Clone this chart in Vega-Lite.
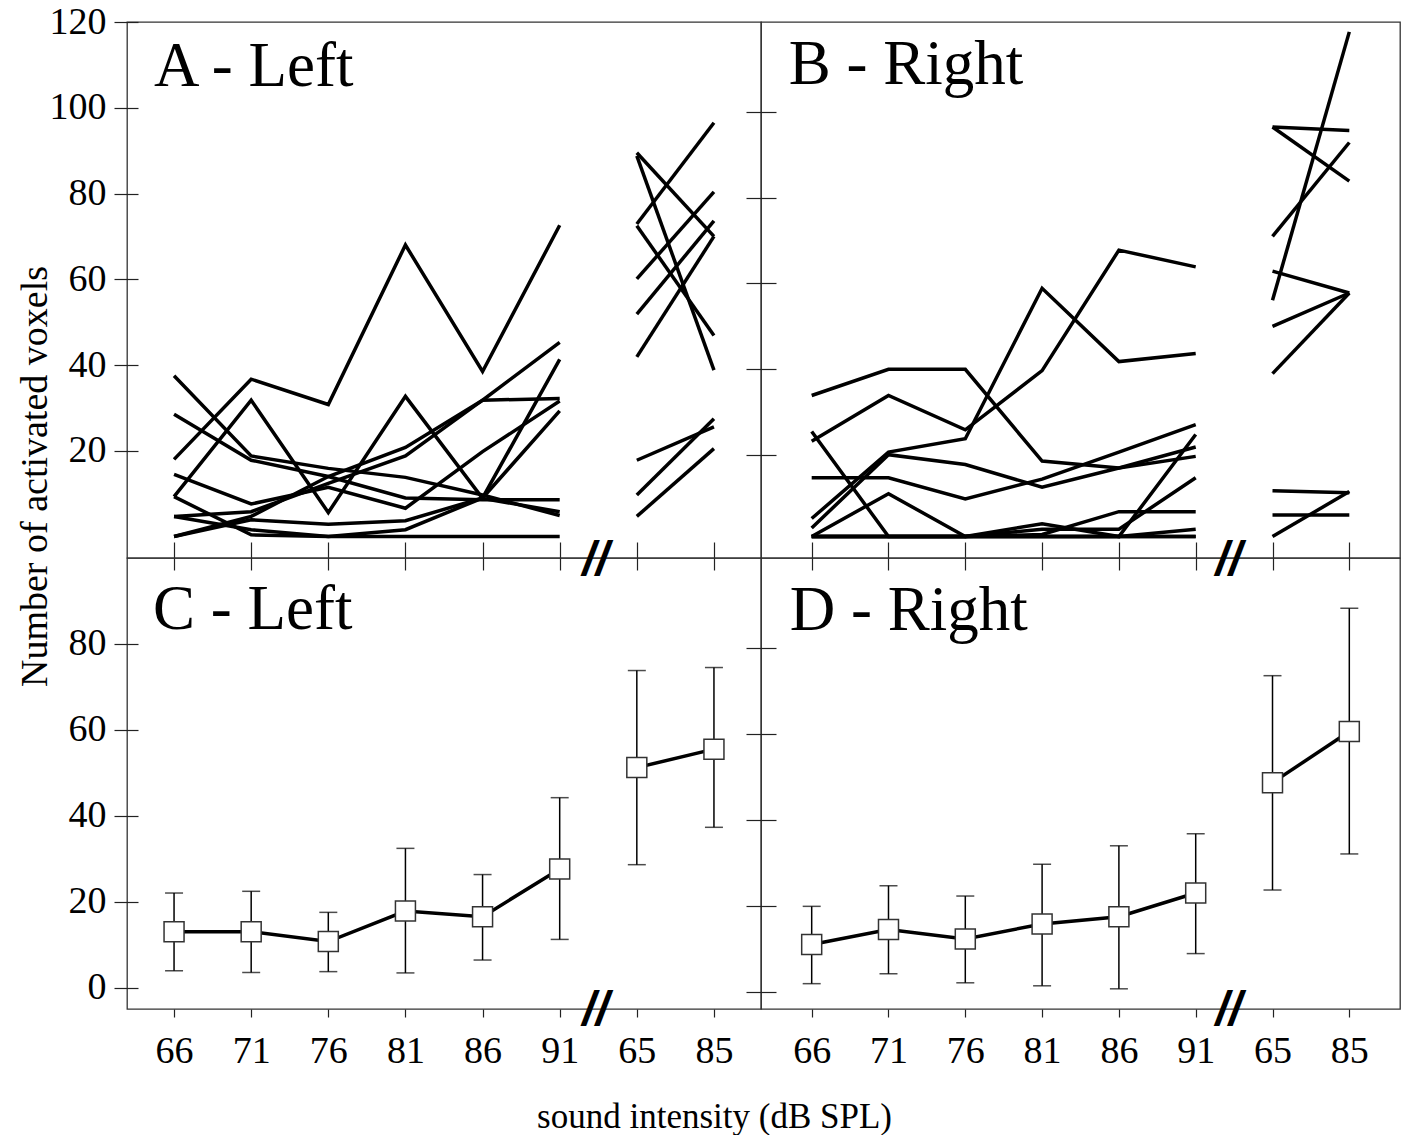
{
  "$schema": "https://vega.github.io/schema/vega-lite/v6.json",
  "background": "white",
  "padding": {"left": 15, "top": 2, "right": 0, "bottom": 0},
  "bounds": "flush",
  "spacing": 0,
  "columns": 2,
  "config": {
    "view": {"stroke": "#333", "strokeWidth": 1.3},
    "axis": {"labelFont": "Liberation Serif", "labelFontSize": 38, "labelColor": "black", "titleFont": "Liberation Serif", "titleFontWeight": "normal", "titleColor": "black", "tickColor": "#222", "tickWidth": 1.2, "grid": false, "labelOverlap": false},
    "text": {"font": "Liberation Serif", "color": "black"}
  },
  "datasets": {
    "left_subjects": [
      {"subject": "1", "part": "low", "level": "66", "voxels": 18}, {"subject": "1", "part": "low", "level": "71", "voxels": 36.7}, {"subject": "1", "part": "low", "level": "76", "voxels": 30.8}, {"subject": "1", "part": "low", "level": "81", "voxels": 68}, {"subject": "1", "part": "low", "level": "86", "voxels": 38.5}, {"subject": "1", "part": "low", "level": "91", "voxels": 72.6},
      {"subject": "2", "part": "low", "level": "66", "voxels": 37.5}, {"subject": "2", "part": "low", "level": "71", "voxels": 18.8}, {"subject": "2", "part": "low", "level": "76", "voxels": 15.9}, {"subject": "2", "part": "low", "level": "81", "voxels": 13.8}, {"subject": "2", "part": "low", "level": "86", "voxels": 9.7}, {"subject": "2", "part": "low", "level": "91", "voxels": 4.9},
      {"subject": "3", "part": "low", "level": "66", "voxels": 28.5}, {"subject": "3", "part": "low", "level": "71", "voxels": 17.8}, {"subject": "3", "part": "low", "level": "76", "voxels": 14}, {"subject": "3", "part": "low", "level": "81", "voxels": 9}, {"subject": "3", "part": "low", "level": "86", "voxels": 8.6}, {"subject": "3", "part": "low", "level": "91", "voxels": 8.6},
      {"subject": "4", "part": "low", "level": "66", "voxels": 9.3}, {"subject": "4", "part": "low", "level": "71", "voxels": 31.8}, {"subject": "4", "part": "low", "level": "76", "voxels": 5.6}, {"subject": "4", "part": "low", "level": "81", "voxels": 32.7}, {"subject": "4", "part": "low", "level": "86", "voxels": 8.9}, {"subject": "4", "part": "low", "level": "91", "voxels": 5.8},
      {"subject": "5", "part": "low", "level": "66", "voxels": 14.5}, {"subject": "5", "part": "low", "level": "71", "voxels": 7.6}, {"subject": "5", "part": "low", "level": "76", "voxels": 11.5}, {"subject": "5", "part": "low", "level": "81", "voxels": 6.6}, {"subject": "5", "part": "low", "level": "86", "voxels": 19.8}, {"subject": "5", "part": "low", "level": "91", "voxels": 31.6},
      {"subject": "6", "part": "low", "level": "66", "voxels": 4.7}, {"subject": "6", "part": "low", "level": "71", "voxels": 5.8}, {"subject": "6", "part": "low", "level": "76", "voxels": 12.4}, {"subject": "6", "part": "low", "level": "81", "voxels": 18.8}, {"subject": "6", "part": "low", "level": "86", "voxels": 31.8}, {"subject": "6", "part": "low", "level": "91", "voxels": 32.2},
      {"subject": "7", "part": "low", "level": "66", "voxels": 0}, {"subject": "7", "part": "low", "level": "71", "voxels": 4.7}, {"subject": "7", "part": "low", "level": "76", "voxels": 14}, {"subject": "7", "part": "low", "level": "81", "voxels": 20.8}, {"subject": "7", "part": "low", "level": "86", "voxels": 31.8}, {"subject": "7", "part": "low", "level": "91", "voxels": 45.3},
      {"subject": "8", "part": "low", "level": "66", "voxels": 9.3}, {"subject": "8", "part": "low", "level": "71", "voxels": 0.4}, {"subject": "8", "part": "low", "level": "76", "voxels": 0}, {"subject": "8", "part": "low", "level": "81", "voxels": 0}, {"subject": "8", "part": "low", "level": "86", "voxels": 0}, {"subject": "8", "part": "low", "level": "91", "voxels": 0},
      {"subject": "9", "part": "low", "level": "66", "voxels": 4.7}, {"subject": "9", "part": "low", "level": "71", "voxels": 1.6}, {"subject": "9", "part": "low", "level": "76", "voxels": 0}, {"subject": "9", "part": "low", "level": "81", "voxels": 1.6}, {"subject": "9", "part": "low", "level": "86", "voxels": 9}, {"subject": "9", "part": "low", "level": "91", "voxels": 29.3},
      {"subject": "10", "part": "low", "level": "66", "voxels": 0}, {"subject": "10", "part": "low", "level": "71", "voxels": 3.9}, {"subject": "10", "part": "low", "level": "76", "voxels": 2.9}, {"subject": "10", "part": "low", "level": "81", "voxels": 3.7}, {"subject": "10", "part": "low", "level": "86", "voxels": 9}, {"subject": "10", "part": "low", "level": "91", "voxels": 41.3},
      {"subject": "1", "part": "high", "level": "65", "voxels": 88.8}, {"subject": "1", "part": "high", "level": "85", "voxels": 38.8},
      {"subject": "2", "part": "high", "level": "65", "voxels": 89.5}, {"subject": "2", "part": "high", "level": "85", "voxels": 70},
      {"subject": "3", "part": "high", "level": "65", "voxels": 72.9}, {"subject": "3", "part": "high", "level": "85", "voxels": 96.5},
      {"subject": "4", "part": "high", "level": "65", "voxels": 72.5}, {"subject": "4", "part": "high", "level": "85", "voxels": 46.9},
      {"subject": "5", "part": "high", "level": "65", "voxels": 60.1}, {"subject": "5", "part": "high", "level": "85", "voxels": 80.4},
      {"subject": "6", "part": "high", "level": "65", "voxels": 51.9}, {"subject": "6", "part": "high", "level": "85", "voxels": 73.6},
      {"subject": "7", "part": "high", "level": "65", "voxels": 41.9}, {"subject": "7", "part": "high", "level": "85", "voxels": 70},
      {"subject": "8", "part": "high", "level": "65", "voxels": 17.8}, {"subject": "8", "part": "high", "level": "85", "voxels": 25.6},
      {"subject": "9", "part": "high", "level": "65", "voxels": 9.7}, {"subject": "9", "part": "high", "level": "85", "voxels": 27.5},
      {"subject": "10", "part": "high", "level": "65", "voxels": 4.7}, {"subject": "10", "part": "high", "level": "85", "voxels": 20.5}
    ],
    "right_subjects": [
      {"subject": "1", "part": "low", "level": "66", "voxels": 32.9}, {"subject": "1", "part": "low", "level": "71", "voxels": 39}, {"subject": "1", "part": "low", "level": "76", "voxels": 39}, {"subject": "1", "part": "low", "level": "81", "voxels": 17.6}, {"subject": "1", "part": "low", "level": "86", "voxels": 16}, {"subject": "1", "part": "low", "level": "91", "voxels": 18.7},
      {"subject": "2", "part": "low", "level": "66", "voxels": 24.5}, {"subject": "2", "part": "low", "level": "71", "voxels": 0}, {"subject": "2", "part": "low", "level": "76", "voxels": 0}, {"subject": "2", "part": "low", "level": "81", "voxels": 0}, {"subject": "2", "part": "low", "level": "86", "voxels": 0}, {"subject": "2", "part": "low", "level": "91", "voxels": 0},
      {"subject": "3", "part": "low", "level": "66", "voxels": 22.2}, {"subject": "3", "part": "low", "level": "71", "voxels": 32.9}, {"subject": "3", "part": "low", "level": "76", "voxels": 24.9}, {"subject": "3", "part": "low", "level": "81", "voxels": 38.7}, {"subject": "3", "part": "low", "level": "86", "voxels": 66.8}, {"subject": "3", "part": "low", "level": "91", "voxels": 62.9},
      {"subject": "4", "part": "low", "level": "66", "voxels": 4.2}, {"subject": "4", "part": "low", "level": "71", "voxels": 19.7}, {"subject": "4", "part": "low", "level": "76", "voxels": 22.8}, {"subject": "4", "part": "low", "level": "81", "voxels": 57.9}, {"subject": "4", "part": "low", "level": "86", "voxels": 40.8}, {"subject": "4", "part": "low", "level": "91", "voxels": 42.7},
      {"subject": "5", "part": "low", "level": "66", "voxels": 2}, {"subject": "5", "part": "low", "level": "71", "voxels": 19.1}, {"subject": "5", "part": "low", "level": "76", "voxels": 16.8}, {"subject": "5", "part": "low", "level": "81", "voxels": 11.5}, {"subject": "5", "part": "low", "level": "86", "voxels": 16}, {"subject": "5", "part": "low", "level": "91", "voxels": 20.9},
      {"subject": "6", "part": "low", "level": "66", "voxels": 13.7}, {"subject": "6", "part": "low", "level": "71", "voxels": 13.7}, {"subject": "6", "part": "low", "level": "76", "voxels": 8.8}, {"subject": "6", "part": "low", "level": "81", "voxels": 13.4}, {"subject": "6", "part": "low", "level": "86", "voxels": 19.7}, {"subject": "6", "part": "low", "level": "91", "voxels": 26.1},
      {"subject": "7", "part": "low", "level": "66", "voxels": 0}, {"subject": "7", "part": "low", "level": "71", "voxels": 10}, {"subject": "7", "part": "low", "level": "76", "voxels": 0}, {"subject": "7", "part": "low", "level": "81", "voxels": 0}, {"subject": "7", "part": "low", "level": "86", "voxels": 0}, {"subject": "7", "part": "low", "level": "91", "voxels": 0},
      {"subject": "8", "part": "low", "level": "66", "voxels": 0}, {"subject": "8", "part": "low", "level": "71", "voxels": 0}, {"subject": "8", "part": "low", "level": "76", "voxels": 0}, {"subject": "8", "part": "low", "level": "81", "voxels": 3}, {"subject": "8", "part": "low", "level": "86", "voxels": 0}, {"subject": "8", "part": "low", "level": "91", "voxels": 23.8},
      {"subject": "9", "part": "low", "level": "66", "voxels": 0}, {"subject": "9", "part": "low", "level": "71", "voxels": 0}, {"subject": "9", "part": "low", "level": "76", "voxels": 0}, {"subject": "9", "part": "low", "level": "81", "voxels": 0.5}, {"subject": "9", "part": "low", "level": "86", "voxels": 5.8}, {"subject": "9", "part": "low", "level": "91", "voxels": 5.8},
      {"subject": "10", "part": "low", "level": "66", "voxels": 0}, {"subject": "10", "part": "low", "level": "71", "voxels": 0}, {"subject": "10", "part": "low", "level": "76", "voxels": 0}, {"subject": "10", "part": "low", "level": "81", "voxels": 1.7}, {"subject": "10", "part": "low", "level": "86", "voxels": 1.7}, {"subject": "10", "part": "low", "level": "91", "voxels": 13.7},
      {"subject": "11", "part": "low", "level": "66", "voxels": 0}, {"subject": "11", "part": "low", "level": "71", "voxels": 0}, {"subject": "11", "part": "low", "level": "76", "voxels": 0}, {"subject": "11", "part": "low", "level": "81", "voxels": 0}, {"subject": "11", "part": "low", "level": "86", "voxels": 0}, {"subject": "11", "part": "low", "level": "91", "voxels": 1.7},
      {"subject": "1", "part": "high", "level": "65", "voxels": 55.1}, {"subject": "1", "part": "high", "level": "85", "voxels": 117.7},
      {"subject": "2", "part": "high", "level": "65", "voxels": 95.5}, {"subject": "2", "part": "high", "level": "85", "voxels": 94.7},
      {"subject": "3", "part": "high", "level": "65", "voxels": 95.5}, {"subject": "3", "part": "high", "level": "85", "voxels": 82.9},
      {"subject": "4", "part": "high", "level": "65", "voxels": 70}, {"subject": "4", "part": "high", "level": "85", "voxels": 91.9},
      {"subject": "5", "part": "high", "level": "65", "voxels": 61.9}, {"subject": "5", "part": "high", "level": "85", "voxels": 56.8},
      {"subject": "6", "part": "high", "level": "65", "voxels": 49}, {"subject": "6", "part": "high", "level": "85", "voxels": 56.8},
      {"subject": "7", "part": "high", "level": "65", "voxels": 38}, {"subject": "7", "part": "high", "level": "85", "voxels": 56.8},
      {"subject": "8", "part": "high", "level": "65", "voxels": 10.7}, {"subject": "8", "part": "high", "level": "85", "voxels": 10.2},
      {"subject": "9", "part": "high", "level": "65", "voxels": 5}, {"subject": "9", "part": "high", "level": "85", "voxels": 5},
      {"subject": "10", "part": "high", "level": "65", "voxels": 0}, {"subject": "10", "part": "high", "level": "85", "voxels": 10.5}
    ],
    "left_means": [
      {"part": "low", "level": "66", "mean": 13.0, "lo": 3.9, "hi": 22.0},
      {"part": "low", "level": "71", "mean": 13.0, "lo": 3.5, "hi": 22.4},
      {"part": "low", "level": "76", "mean": 10.7, "lo": 3.7, "hi": 17.5},
      {"part": "low", "level": "81", "mean": 17.8, "lo": 3.4, "hi": 32.4},
      {"part": "low", "level": "86", "mean": 16.5, "lo": 6.4, "hi": 26.3},
      {"part": "low", "level": "91", "mean": 27.6, "lo": 11.2, "hi": 44.2},
      {"part": "high", "level": "65", "mean": 51.2, "lo": 28.6, "hi": 73.8},
      {"part": "high", "level": "85", "mean": 55.5, "lo": 37.3, "hi": 74.5}
    ],
    "right_means": [
      {"part": "low", "level": "66", "mean": 10.0, "lo": 0.9, "hi": 18.9},
      {"part": "low", "level": "71", "mean": 13.5, "lo": 3.2, "hi": 23.7},
      {"part": "low", "level": "76", "mean": 11.3, "lo": 1.1, "hi": 21.3},
      {"part": "low", "level": "81", "mean": 14.8, "lo": 0.4, "hi": 28.7},
      {"part": "low", "level": "86", "mean": 16.5, "lo": -0.3, "hi": 33.0},
      {"part": "low", "level": "91", "mean": 22.0, "lo": 7.9, "hi": 35.8},
      {"part": "high", "level": "65", "mean": 47.7, "lo": 22.7, "hi": 72.6},
      {"part": "high", "level": "85", "mean": 59.6, "lo": 31.1, "hi": 88.3}
    ]
  },
  "concat": [
    {
      "width": 634, "height": 536,
      "layer": [
        {
          "data": {"name": "left_subjects"},
          "mark": {"type": "line", "color": "black", "strokeWidth": 3.5},
          "encoding": {
            "x": {"field": "level", "type": "ordinal", "scale": {"type": "point", "domain": ["66", "71", "76", "81", "86", "91", "65", "85"], "padding": 0.61},
                  "axis": {"title": null, "labels": false, "domain": false, "offset": -16, "tickSize": 28}},
            "y": {"field": "voxels", "type": "quantitative", "scale": {"domain": [-5, 120], "nice": false, "zero": false},
                  "axis": {"values": [20, 40, 60, 80, 100, 120], "offset": -11, "tickSize": 24, "domain": false, "labelPadding": 8,
                           "title": "Number of activated voxels", "titleFontSize": 38, "titleX": -92, "titleY": 454, "titleBaseline": "alphabetic", "titleAngle": -90, "titleAlign": "center"}},
            "detail": [{"field": "subject"}, {"field": "part"}]
          }
        },
        {
          "data": {"values": [{"label": "A - Left"}]},
          "mark": {"type": "text", "align": "left", "baseline": "alphabetic", "fontSize": 63, "dx": -20},
          "encoding": {"x": {"datum": "66", "type": "ordinal"}, "y": {"datum": 105.1, "type": "quantitative"}, "text": {"field": "label"}}
        }
      ]
    },
    {
      "width": 639, "height": 536,
      "layer": [
        {
          "data": {"name": "right_subjects"},
          "mark": {"type": "line", "color": "black", "strokeWidth": 3.5},
          "encoding": {
            "x": {"field": "level", "type": "ordinal", "scale": {"type": "point", "domain": ["66", "71", "76", "81", "86", "91", "65", "85"], "padding": 0.66},
                  "axis": {"title": null, "labels": false, "domain": false, "offset": -16, "tickSize": 28}},
            "y": {"field": "voxels", "type": "quantitative", "scale": {"domain": [-5, 120], "nice": false, "zero": false},
                  "axis": {"values": [19.07, 39.07, 59.07, 79.07, 99.07], "offset": -15, "tickSize": 30, "domain": false, "labels": false, "title": null}},
            "detail": [{"field": "subject"}, {"field": "part"}]
          }
        },
        {
          "data": {"values": [{"label": "B - Right"}]},
          "mark": {"type": "text", "align": "left", "baseline": "alphabetic", "fontSize": 63, "dx": -23},
          "encoding": {"x": {"datum": "66", "type": "ordinal"}, "y": {"datum": 105.5, "type": "quantitative"}, "text": {"field": "label"}}
        }
      ]
    },
    {
      "width": 634, "height": 451,
      "layer": [
        {
          "data": {"name": "left_means"},
          "encoding": {
            "x": {"field": "level", "type": "ordinal", "scale": {"type": "point", "domain": ["66", "71", "76", "81", "86", "91", "65", "85"], "padding": 0.61},
                  "axis": {"title": "sound intensity (dB SPL)", "titleFontSize": 35, "titleX": 587, "titleY": 118, "titleBaseline": "alphabetic", "titleAlign": "center",
                           "labelAngle": 0, "domain": false, "tickSize": 8, "labelPadding": 15}},
            "y": {"field": "mean", "type": "quantitative", "scale": {"domain": [-5, 100], "nice": false, "zero": false},
                  "axis": {"values": [0, 20, 40, 60, 80], "offset": -11, "tickSize": 24, "domain": false, "labelPadding": 8, "title": null}}
          },
          "layer": [
            {"mark": {"type": "rule", "color": "black", "strokeWidth": 1.5}, "encoding": {"y": {"field": "lo", "type": "quantitative"}, "y2": {"field": "hi"}}},
            {"mark": {"type": "tick", "orient": "horizontal", "size": 18, "thickness": 1.5, "color": "black"}, "encoding": {"y": {"field": "lo", "type": "quantitative"}}},
            {"mark": {"type": "tick", "orient": "horizontal", "size": 18, "thickness": 1.5, "color": "black"}, "encoding": {"y": {"field": "hi", "type": "quantitative"}}},
            {"mark": {"type": "line", "color": "black", "strokeWidth": 3.5}, "encoding": {"detail": {"field": "part"}}},
            {"mark": {"type": "point", "shape": "square", "size": 400, "filled": true, "fill": "white", "stroke": "#333", "strokeWidth": 1.5, "opacity": 1}}
          ]
        },
        {
          "data": {"values": [{"label": "C - Left"}]},
          "mark": {"type": "text", "align": "left", "baseline": "alphabetic", "fontSize": 63, "dx": -21},
          "encoding": {"x": {"datum": "66", "type": "ordinal"}, "y": {"datum": 83.4, "type": "quantitative"}, "text": {"field": "label"}}
        },
        {
          "data": {"values": [{"label": "//"}]},
          "mark": {"type": "text", "align": "center", "baseline": "middle", "font": "Liberation Sans", "fontWeight": "bold", "fontStyle": "italic", "fontSize": 48, "dx": 36, "dy": 3},
          "encoding": {"x": {"datum": "91", "type": "ordinal"}, "y": {"datum": 100, "type": "quantitative"}, "text": {"field": "label"}}
        },
        {
          "data": {"values": [{"label": "//"}]},
          "mark": {"type": "text", "align": "center", "baseline": "middle", "font": "Liberation Sans", "fontWeight": "bold", "fontStyle": "italic", "fontSize": 48, "dx": 36, "dy": 2},
          "encoding": {"x": {"datum": "91", "type": "ordinal"}, "y": {"datum": -5, "type": "quantitative"}, "text": {"field": "label"}}
        }
      ]
    },
    {
      "width": 639, "height": 451,
      "layer": [
        {
          "data": {"name": "right_means"},
          "encoding": {
            "x": {"field": "level", "type": "ordinal", "scale": {"type": "point", "domain": ["66", "71", "76", "81", "86", "91", "65", "85"], "padding": 0.66},
                  "axis": {"title": null, "labelAngle": 0, "domain": false, "tickSize": 8, "labelPadding": 15}},
            "y": {"field": "mean", "type": "quantitative", "scale": {"domain": [-5, 100], "nice": false, "zero": false},
                  "axis": {"values": [-1, 19, 39, 59, 79], "offset": -15, "tickSize": 30, "domain": false, "labels": false, "title": null}}
          },
          "layer": [
            {"mark": {"type": "rule", "color": "black", "strokeWidth": 1.5}, "encoding": {"y": {"field": "lo", "type": "quantitative"}, "y2": {"field": "hi"}}},
            {"mark": {"type": "tick", "orient": "horizontal", "size": 18, "thickness": 1.5, "color": "black"}, "encoding": {"y": {"field": "lo", "type": "quantitative"}}},
            {"mark": {"type": "tick", "orient": "horizontal", "size": 18, "thickness": 1.5, "color": "black"}, "encoding": {"y": {"field": "hi", "type": "quantitative"}}},
            {"mark": {"type": "line", "color": "black", "strokeWidth": 3.5}, "encoding": {"detail": {"field": "part"}}},
            {"mark": {"type": "point", "shape": "square", "size": 400, "filled": true, "fill": "white", "stroke": "#333", "strokeWidth": 1.5, "opacity": 1}}
          ]
        },
        {
          "data": {"values": [{"label": "D - Right"}]},
          "mark": {"type": "text", "align": "left", "baseline": "alphabetic", "fontSize": 63, "dx": -22},
          "encoding": {"x": {"datum": "66", "type": "ordinal"}, "y": {"datum": 83.2, "type": "quantitative"}, "text": {"field": "label"}}
        },
        {
          "data": {"values": [{"label": "//"}]},
          "mark": {"type": "text", "align": "center", "baseline": "middle", "font": "Liberation Sans", "fontWeight": "bold", "fontStyle": "italic", "fontSize": 48, "dx": 33, "dy": 3},
          "encoding": {"x": {"datum": "91", "type": "ordinal"}, "y": {"datum": 100, "type": "quantitative"}, "text": {"field": "label"}}
        },
        {
          "data": {"values": [{"label": "//"}]},
          "mark": {"type": "text", "align": "center", "baseline": "middle", "font": "Liberation Sans", "fontWeight": "bold", "fontStyle": "italic", "fontSize": 48, "dx": 33, "dy": 2},
          "encoding": {"x": {"datum": "91", "type": "ordinal"}, "y": {"datum": -5, "type": "quantitative"}, "text": {"field": "label"}}
        }
      ]
    }
  ]
}
